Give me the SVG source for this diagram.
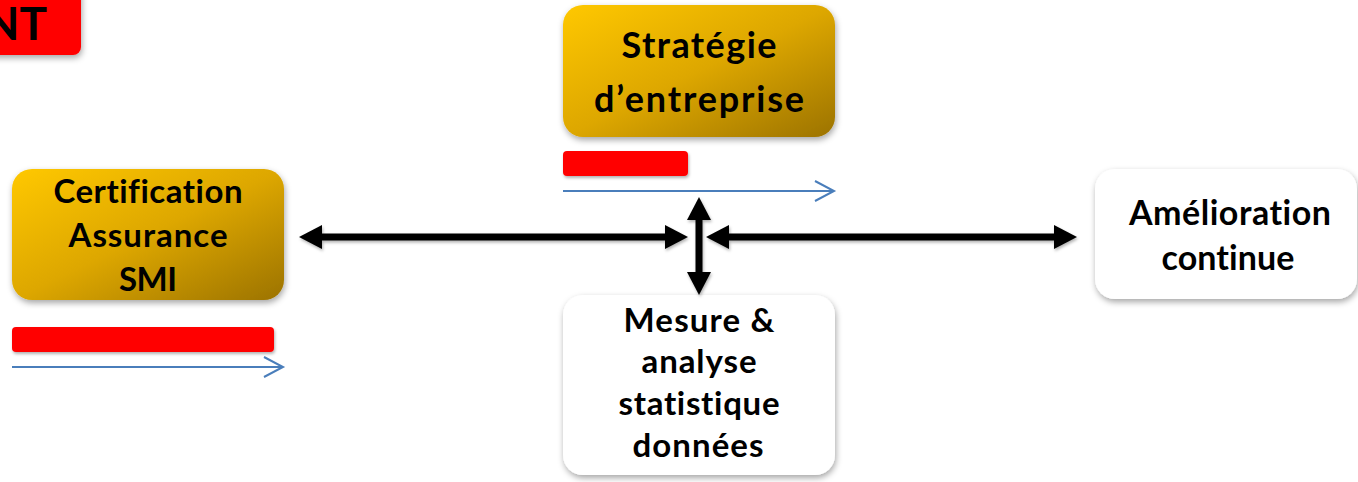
<svg xmlns="http://www.w3.org/2000/svg" width="1358" height="482" viewBox="0 0 1358 482">
<style>
.t{font-family:Lato,"Liberation Sans",sans-serif;font-weight:bold;fill:#000;text-anchor:middle;font-variant-ligatures:none}
.blue{stroke:#4A7EBB;stroke-width:2;fill:none}
.shaft{stroke:#000;stroke-width:7;fill:none}
.red{fill:#FF0000}
.white{fill:#FFFFFF}
</style>
<defs>
<linearGradient id="gold" x1="0" y1="0" x2="1" y2="1">
<stop offset="0" stop-color="#FFC800"/>
<stop offset="0.5" stop-color="#DDA700"/>
<stop offset="1" stop-color="#9C7300"/>
</linearGradient>
<filter id="sh" x="-20%" y="-20%" width="140%" height="150%">
<feDropShadow dx="1" dy="3" stdDeviation="3" flood-color="#000" flood-opacity="0.35"/>
</filter>
<filter id="shs" x="-20%" y="-50%" width="140%" height="200%">
<feDropShadow dx="1" dy="2" stdDeviation="1.5" flood-color="#000" flood-opacity="0.3"/>
</filter>
<marker id="ah" markerUnits="userSpaceOnUse" viewBox="0 0 23 24" markerWidth="23" markerHeight="24" refX="13" refY="12" orient="auto-start-reverse">
<path d="M0,0 L23,12 L0,24 z" fill="#000"/>
</marker>
</defs>

<g id="label-nt">
<rect x="-20" y="-20" width="101" height="75" rx="8" class="red" filter="url(#sh)"/>
<text class="t" x="47" y="40" font-size="46" style="text-anchor:end">NT</text>
</g>

<g id="node-strategie">
<rect x="563" y="5" width="272" height="132" rx="20" fill="url(#gold)" filter="url(#sh)"/>
<text class="t" x="699" y="58" font-size="36" textLength="155" lengthAdjust="spacing">Stratégie</text>
<text class="t" x="699" y="112" font-size="36" textLength="210" lengthAdjust="spacing">d’entreprise</text>
</g>

<g id="node-certification">
<rect x="12" y="169" width="272" height="131" rx="20" fill="url(#gold)" filter="url(#sh)"/>
<text class="t" x="148" y="203" font-size="33" textLength="189" lengthAdjust="spacing">Certification</text>
<text class="t" x="148" y="247" font-size="33" textLength="159" lengthAdjust="spacing">Assurance</text>
<text class="t" x="148" y="291" font-size="33" textLength="58" lengthAdjust="spacing">SMI</text>
</g>

<g id="node-amelioration">
<rect x="1095" y="169" width="262" height="130" rx="20" class="white" filter="url(#sh)"/>
<text class="t" x="1230" y="225" font-size="34" textLength="202" lengthAdjust="spacing">Amélioration</text>
<text class="t" x="1228" y="270" font-size="34" textLength="133" lengthAdjust="spacing">continue</text>
</g>

<g id="node-mesure">
<rect x="563" y="295" width="272" height="180" rx="20" class="white" filter="url(#sh)"/>
<text class="t" x="699" y="332" font-size="33" textLength="151" lengthAdjust="spacing">Mesure &amp;</text>
<text class="t" x="699" y="373" font-size="33" textLength="115" lengthAdjust="spacing">analyse</text>
<text class="t" x="699" y="415" font-size="33" textLength="161" lengthAdjust="spacing">statistique</text>
<text class="t" x="698" y="457" font-size="33" textLength="131" lengthAdjust="spacing">données</text>
</g>

<g id="bar-strategie">
<rect x="563" y="151" width="125" height="25" rx="4" class="red" filter="url(#shs)"/>
</g>
<g id="bar-certification">
<rect x="12" y="327" width="262" height="25" rx="4" class="red" filter="url(#shs)"/>
</g>

<g id="connectors">
<g id="timeline-arrows">
<line x1="563" y1="191" x2="833" y2="191" class="blue"/>
<polyline points="815,181 834,191 815,201" class="blue"/>
<line x1="12" y1="367" x2="282" y2="367" class="blue"/>
<polyline points="264,357 283,367 264,377" class="blue"/>
</g>
<g id="black-arrows" filter="url(#shs)">
<line x1="309" y1="237" x2="678" y2="237" class="shaft" marker-start="url(#ah)" marker-end="url(#ah)"/>
<line x1="716" y1="237" x2="1067" y2="237" class="shaft" marker-start="url(#ah)" marker-end="url(#ah)"/>
<line x1="699" y1="207" x2="699" y2="285" class="shaft" marker-start="url(#ah)" marker-end="url(#ah)"/>
</g>
</g>
</svg>
